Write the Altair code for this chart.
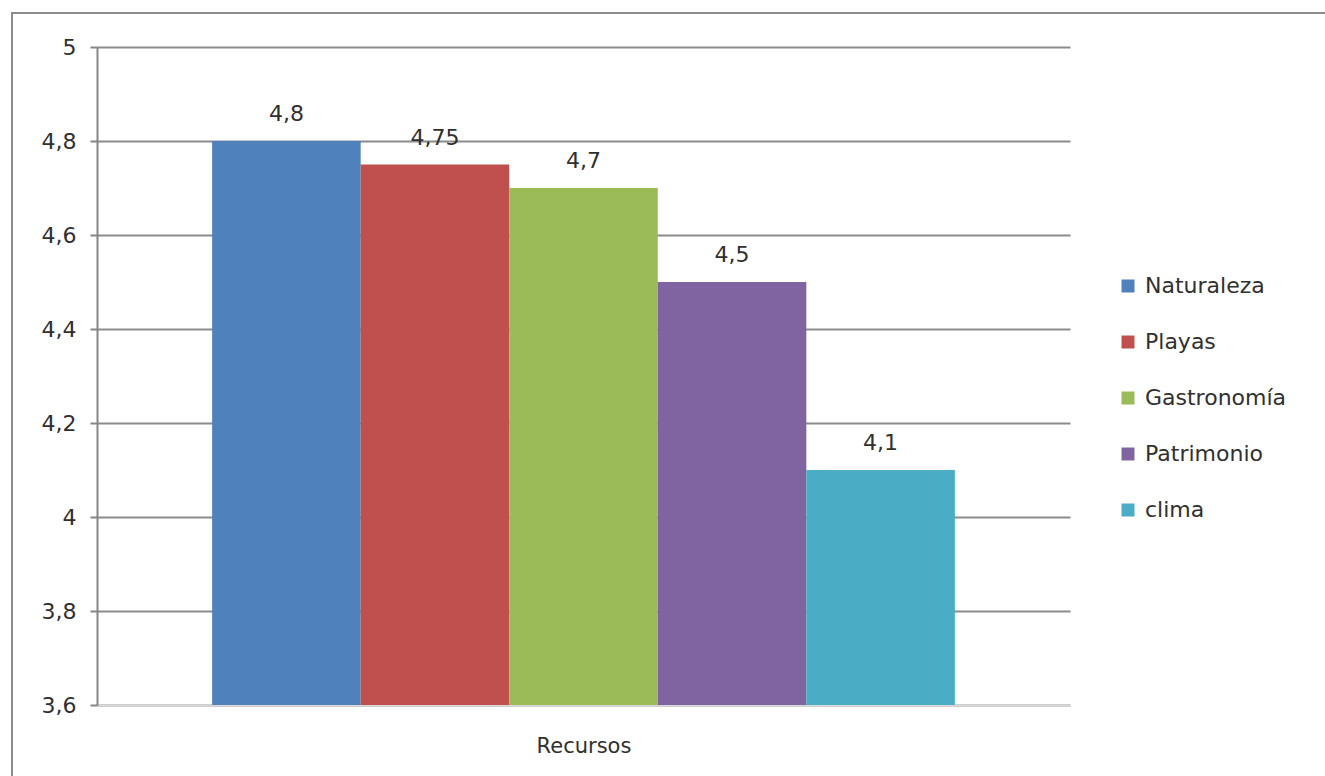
import altair as alt
import pandas as pd

categoria = "Recursos"
series = ["Naturaleza", "Playas", "Gastronomía", "Patrimonio", "clima"]
valores = [4.8, 4.75, 4.7, 4.5, 4.1]
colores = ["#4F81BD", "#C0504D", "#9BBB59", "#8064A2", "#4BACC6"]

df = pd.DataFrame({
    "grupo": [categoria] * len(series),
    "serie": series,
    "valor": valores,
})

FONT = "DejaVu Sans"
TXT = "#303030"

x = alt.X("grupo:N", title=categoria,
          scale=alt.Scale(paddingInner=0, paddingOuter=0.155),
          axis=alt.Axis(labels=False, ticks=False, domainColor="#D9D9D9",
                        domainWidth=2, titleFontSize=21, titleFont=FONT,
                        titleFontWeight="normal", titleColor=TXT,
                        titlePadding=30))
xo = alt.XOffset("serie:N", sort=series,
                 scale=alt.Scale(paddingInner=0, paddingOuter=0))
y = alt.Y("valor:Q", title=None,
          scale=alt.Scale(domain=[3.6, 5], zero=False, nice=False),
          axis=alt.Axis(values=[3.6, 3.8, 4.0, 4.2, 4.4, 4.6, 4.8, 5.0],
                        labelExpr="replace(format(datum.value, '.2~f'), '.', ',')",
                        labelFont=FONT, labelFontSize=22, labelColor=TXT,
                        labelPadding=14, tickSize=7, tickColor="#868686",
                        domainColor="#868686", domainWidth=2, tickWidth=2,
                        grid=True, gridColor="#8C8C8C", gridWidth=2))

color = alt.Color("serie:N", sort=series,
                  scale=alt.Scale(domain=series, range=colores),
                  legend=alt.Legend(title=None, orient="none", legendX=1020,
                                    legendY=228, symbolType="square",
                                    symbolSize=169, symbolStrokeWidth=0,
                                    labelFont=FONT, labelFontSize=22,
                                    labelColor=TXT, rowPadding=34,
                                    labelOffset=6))

base = alt.Chart(df).encode(x=x, xOffset=xo)

bars = base.mark_bar(clip=True).encode(y=y, color=color)

labels = base.transform_calculate(
    etiqueta="replace(toString(datum.valor), '.', ',')"
).mark_text(font=FONT, fontSize=22, color=TXT, baseline="alphabetic",
            dy=-20).encode(y=alt.Y("valor:Q"), text="etiqueta:N")

borde = alt.Chart(df).mark_rect(fill="transparent", stroke="#8C8C8C",
                                strokeWidth=2, clip=False).encode(
    x=alt.value(-85), x2=alt.value(2000), y=alt.value(-34), y2=alt.value(2000))

chart = alt.layer(borde, bars, labels).properties(
    width=973, height=658,
    autosize=alt.AutoSizeParams(type="none"),
    padding={"left": 97, "top": 47, "right": 255, "bottom": 71},
    background="white",
).configure_view(stroke=None)

chart.save("out.html", embed_options={"renderer": "svg", "actions": False})
